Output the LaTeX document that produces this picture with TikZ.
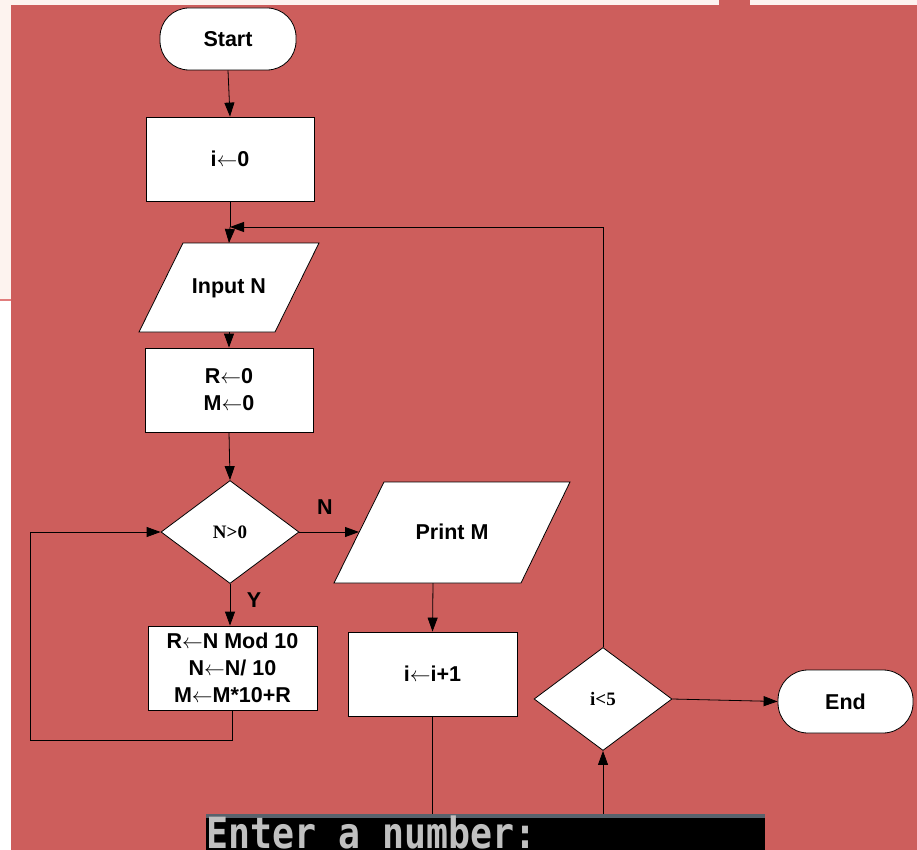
\documentclass[tikz,border=0pt]{standalone}
\usepackage{fontspec}
\setmainfont{Liberation Sans}
\newfontfamily\serifbf{Liberation Serif}
\newfontfamily\consolefont{DejaVu Sans Mono}
\usetikzlibrary{shapes.geometric,arrows.meta,calc}
\definecolor{bgred}{RGB}{205,94,92}
\definecolor{paper}{RGB}{253,243,239}
\definecolor{linered}{RGB}{225,125,125}
\definecolor{consgray}{RGB}{192,192,192}
\definecolor{consedge}{RGB}{88,98,108}
\newcommand\lblfont{\fontsize{21.5}{27}\selectfont\bfseries}
\newcommand\condfont{\fontsize{19}{20}\selectfont\serifbf\bfseries}
\newcommand\larr{$\leftarrow$}
\begin{document}
\begin{tikzpicture}[x=1pt,y=-1pt,
  box/.style={draw=black, fill=white, line width=0.8pt, minimum width=168pt, minimum height=84pt, inner sep=0pt, font=\lblfont, align=center},
  term/.style={draw=black, fill=white, line width=0.8pt, rounded corners=29pt, minimum width=136pt, minimum height=62pt, inner sep=0pt, font=\lblfont},
  decision/.style={diamond, draw=black, fill=white, line width=0.8pt, minimum width=138pt, minimum height=103pt, inner sep=0pt, font=\condfont},
  para/.style={draw=black, fill=white, line width=0.8pt},
  ptext/.style={font=\lblfont, inner sep=0pt},
  conn/.style={draw=black, line width=0.8pt},
  arr/.style={conn, -{Triangle[length=14pt,width=10pt]}},
  lab/.style={font=\lblfont, inner sep=0pt}]
\useasboundingbox (0,0) rectangle (917,850);
% background
\fill[white] (0,0) rectangle (917,850);
\fill[paper] (0,0) rectangle (917,5);
\fill[paper] (0,0) rectangle (11,299);
\fill[linered] (0,299) rectangle (11,301);
\fill[bgred] (11,5) rectangle (917,850);
\fill[bgred] (719,0) rectangle (750,5);

% nodes
\node[term] (start) at (228,39) {Start};
\node[box] (i0) at (230,159) {i\larr0};
\draw[para] (183,243) -- (319,243) -- (275,332) -- (139,332) -- cycle;
\node[ptext] (inN) at (229,288) {Input N};
\coordinate (inTop) at (229,243);
\coordinate (inBot) at (229,332);
\node[box] (r0) at (229,390) {R\larr0\\M\larr0};
\node[decision] (d1) at (230,532) {N>0};
\node[box, minimum width=169pt] (body) at (232.5,668) {R\larr N Mod 10\\N\larr N/ 10\\M\larr M*10+R};
\draw[para] (384,482) -- (570,482) -- (521,583) -- (334,583) -- cycle;
\node[ptext] (pm) at (452,532) {Print M};
\coordinate (pmLeft) at (359,532);
\coordinate (pmBot) at (433,583);
\node[box, minimum width=169pt] (inc) at (432.5,674) {i\larr i+1};
\node[decision] (d2) at (603,699) {i<5};
\node[term, minimum width=135pt, minimum height=63pt, rounded corners=30pt] (end) at (845.5,701.5) {End};

\coordinate (join) at (230,227);
\coordinate (loopL) at (30,740);
\coordinate (hidden) at (433,835);

% connectors
\draw[arr] (start.south) -- (i0.north);
\draw[conn] (i0.south) -- (join);
\draw[arr] (join) -- (inTop);
\draw[arr] (d2.north) |- (join);
\draw[arr] (inBot) -- (r0.north);
\draw[arr] (r0.south) -- (d1.north);
\draw[arr] (d1.east) -- (pmLeft);
\node[lab] (lN) at (325,507) {N};
\draw[arr] (d1.south) -- (d1.south |- body.north);
\node[lab] (lY) at (254,600) {Y};
\draw[arr] (body.south) |- (loopL) |- (d1.west);
\draw[arr] (pmBot) -- (inc.north);
\draw[arr] (inc.south) |- (hidden) -| (d2.south);
\draw[arr] (d2.east) -- (end.west);

% console strip
\fill[consedge] (206,814) rectangle (765,818);
\fill[black] (206,818) rectangle (765,850);
\node[anchor=base west, inner sep=0pt, text=consgray, font=\fontsize{43}{48}\selectfont\consolefont\bfseries] (cons) at (206,848) {\scalebox{0.85}[1]{Enter a number:}};
\end{tikzpicture}
\end{document}
